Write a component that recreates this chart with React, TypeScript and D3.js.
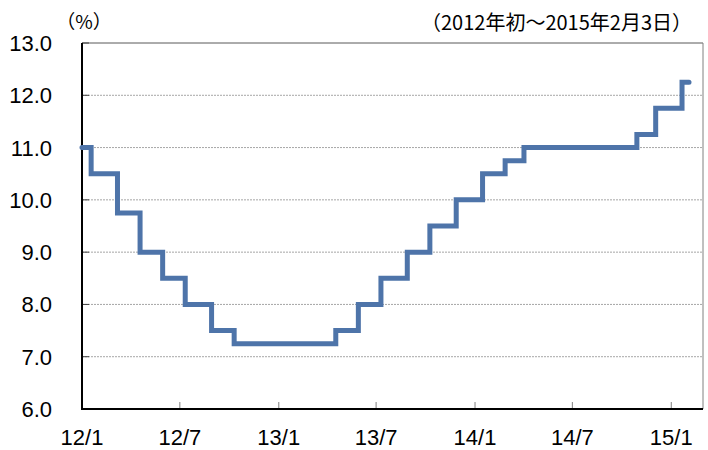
import React, { useEffect, useRef } from "react";
import * as d3 from "d3";

// policy rate steps (change dates and the rate from that date)
const stepDates = [
  "2012-01-01", "2012-01-18", "2012-03-07", "2012-04-18", "2012-05-30", "2012-07-11",
  "2012-08-29", "2012-10-10", "2013-04-17", "2013-05-29", "2013-07-10", "2013-08-28",
  "2013-10-09", "2013-11-27", "2014-01-15", "2014-02-26", "2014-04-02", "2014-10-29",
  "2014-12-03", "2015-01-21", "2015-02-03",
];
const stepRates = [
  11.0, 10.5, 9.75, 9.0, 8.5, 8.0, 7.5, 7.25, 7.5, 8.0, 8.5, 9.0,
  9.5, 10.0, 10.5, 10.75, 11.0, 11.25, 11.75, 12.25, 12.25,
];
const xTickDates = ["2012-01-01", "2012-07-01", "2013-01-01", "2013-07-01", "2014-01-01", "2014-07-01", "2015-01-01"];
const xTickLabels = ["12/1", "12/7", "13/1", "13/7", "14/1", "14/7", "15/1"];
const yTicks = [6, 7, 8, 9, 10, 11, 12, 13];

const unitLabel = "（%）";
const periodLabel = "（2012年初～2015年2月3日）";

type Pt = { date: Date; rate: number };

export default function App() {
  const svgRef = useRef<SVGSVGElement>(null);

  useEffect(() => {
    if (!svgRef.current) return;
    const svg = d3.select(svgRef.current);
    svg.selectAll("*").remove();

    const left = 82, right = 703, top = 43, bottom = 409;
    const parse = d3.utcParse("%Y-%m-%d");
    const data: Pt[] = stepDates.map((d, i) => ({ date: parse(d)!, rate: stepRates[i] }));

    const x = d3.scaleUtc()
      .domain([parse("2012-01-01")!, parse("2015-03-01")!])
      .range([left, right]);
    const y = d3.scaleLinear().domain([6, 13]).range([bottom, top]);

    // gridlines
    svg.append("g")
      .selectAll("line")
      .data(yTicks.filter((t) => t > 6 && t < 13))
      .join("line")
      .attr("x1", left).attr("x2", right)
      .attr("y1", (d) => y(d)).attr("y2", (d) => y(d))
      .attr("stroke", "#a6a6a6")
      .attr("stroke-width", 1)
      .attr("stroke-dasharray", "2,1");

    // frame: top and right
    svg.append("line").attr("x1", left).attr("x2", right).attr("y1", top).attr("y2", top)
      .attr("stroke", "#595959").attr("stroke-width", 1);
    svg.append("line").attr("x1", right).attr("x2", right).attr("y1", top).attr("y2", bottom)
      .attr("stroke", "#808080").attr("stroke-width", 1);

    // y ticks (inward)
    svg.append("g")
      .selectAll("line")
      .data(yTicks)
      .join("line")
      .attr("x1", left).attr("x2", left + 7)
      .attr("y1", (d) => y(d)).attr("y2", (d) => y(d))
      .attr("stroke", "#404040").attr("stroke-width", 1);

    // x ticks (inward)
    svg.append("g")
      .selectAll("line")
      .data(xTickDates.slice(1))
      .join("line")
      .attr("x1", (d) => x(parse(d)!)).attr("x2", (d) => x(parse(d)!))
      .attr("y1", bottom).attr("y2", bottom - 7)
      .attr("stroke", "#808080").attr("stroke-width", 1);

    // axes
    svg.append("line").attr("x1", left).attr("x2", left).attr("y1", top).attr("y2", bottom + 1)
      .attr("stroke", "#000").attr("stroke-width", 2);
    svg.append("line").attr("x1", left - 1).attr("x2", right).attr("y1", bottom).attr("y2", bottom)
      .attr("stroke", "#000").attr("stroke-width", 2);

    // step line
    const line = d3.line<Pt>()
      .x((d) => x(d.date))
      .y((d) => y(d.rate))
      .curve(d3.curveStepAfter);
    svg.append("path")
      .datum(data)
      .attr("fill", "none")
      .attr("stroke", "#4e74a9")
      .attr("stroke-width", 5)
      .attr("stroke-linejoin", "miter")
      .attr("stroke-linecap", "round")
      .attr("d", line);

    // y labels
    svg.append("g")
      .selectAll("text")
      .data(yTicks)
      .join("text")
      .attr("x", 52)
      .attr("y", (d) => y(d) + 8)
      .attr("text-anchor", "end")
      .style("font-family", "'Liberation Sans', Arial, sans-serif")
      .style("font-size", "22px")
      .attr("fill", "#000")
      .text((d) => d.toFixed(1));

    // x labels
    svg.append("g")
      .selectAll("text")
      .data(xTickDates)
      .join("text")
      .attr("x", (d) => x(parse(d)!))
      .attr("y", 445)
      .attr("text-anchor", "middle")
      .style("font-family", "'Liberation Sans', Arial, sans-serif")
      .style("font-size", "22px")
      .attr("fill", "#000")
      .text((d, i) => xTickLabels[i]);

    svg.append("text")
      .attr("x", 84).attr("y", 29)
      .attr("text-anchor", "middle")
      .style("font-family", "'Noto Sans CJK JP', sans-serif")
      .style("font-size", "19px")
      .text(unitLabel);

    svg.append("text")
      .attr("x", 692).attr("y", 30)
      .attr("text-anchor", "end")
      .style("font-family", "'Noto Sans CJK JP', sans-serif")
      .style("font-size", "20px")
      .text(periodLabel);
  }, []);

  return (
    <svg
      ref={svgRef}
      width={708}
      height={450}
      style={{ position: "absolute", left: 0, top: 0, background: "#fff" }}
    />
  );
}
